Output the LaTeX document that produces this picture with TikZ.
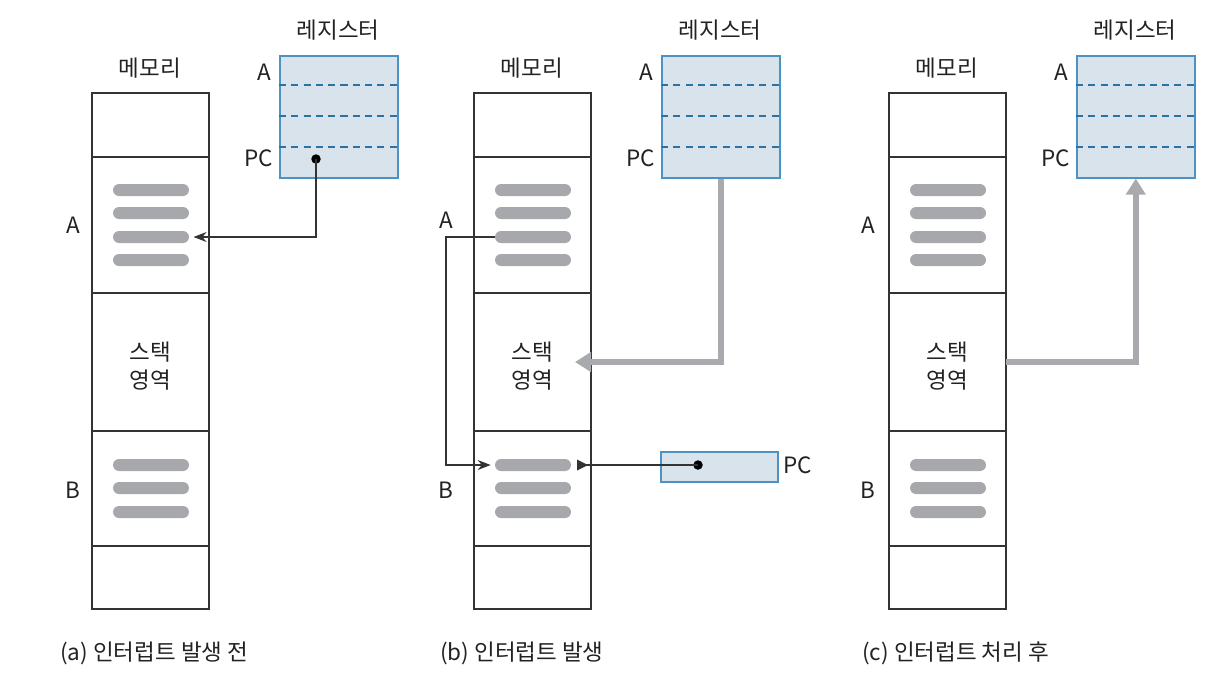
\documentclass[tikz,border=0pt]{standalone}
\usepackage{fontspec}
\setmainfont{Noto Sans CJK KR}
\usetikzlibrary{arrows.meta}
\definecolor{regfill}{HTML}{D8E3EC}
\definecolor{regline}{HTML}{4A93C4}
\definecolor{regdash}{HTML}{2B72A6}
\definecolor{bargray}{HTML}{A7A8AB}
\definecolor{arrgray}{HTML}{A9AAAD}
\definecolor{linec}{HTML}{333333}
\definecolor{txtc}{HTML}{222222}
\tikzset{
  cell/.style={draw=linec, line width=0.9pt},
  bar/.style={fill=bargray, rounded corners=0.12cm, minimum width=1.52cm, minimum height=0.24cm, inner sep=0pt},
  txt/.style={font=\fontsize{12.8}{16}\selectfont, text=txtc, inner sep=0pt},
  thinline/.style={draw=linec, line width=0.6pt},
  thinarrow/.style={thinline, -{Stealth[length=0.26cm, width=0.2cm]}},
  bigarrow/.style={draw=arrgray, line width=3.2pt, -{Triangle[length=0.32cm, width=0.38cm]}},
  reg/.style={draw=regline, fill=regfill, line width=0.9pt, inner sep=0pt},
  regdashed/.style={draw=regdash, line width=0.6pt, dash pattern=on 4pt off 3pt},
  dotnode/.style={circle, fill=black, inner sep=0pt, minimum size=0.19cm},
}
\newcommand{\mempanel}[2]{%
  \node[txt] (#2mem) at (#1+150,68) {메모리};
  \draw[cell] (#1+92,93) rectangle (#1+209,609);
  \foreach \yy in {157,293,431,546} \draw[cell] (#1+92,\yy) -- (#1+209,\yy);
  \foreach \yy [count=\i] in {190,213,237,260} \node[bar] (#2a\i) at (#1+151,\yy) {};
  \foreach \yy [count=\i] in {465,488,512} \node[bar] (#2b\i) at (#1+151,\yy) {};
  \node[txt, align=center] (#2stack) at (#1+150,366) {스택\\영역};
  \node[reg, minimum width=2.36cm, minimum height=2.44cm, anchor=north west] (#2reg) at (#1+279,55) {};
  \foreach \yy in {85,116,147} \draw[regdashed] (#1+279,\yy) -- (#1+397,\yy);
  \node[txt] (#2regtitle) at (#1+338,30) {레지스터};
  \node[txt, anchor=east] (#2regA) at (#1+272,72) {A};
  \node[txt, anchor=east] (#2regPC) at (#1+273,158) {PC};
}
\begin{document}
\begin{tikzpicture}[x=0.02cm, y=-0.02cm]
\useasboundingbox (0,0) rectangle (1224,684);
\fill[white] (0,0) rectangle (1224,684);

% ---------- panel (a)
\mempanel{0}{a}
\node[txt] (aA) at (73,225) {A};
\node[txt] (aB) at (73,490) {B};
\node[dotnode] (adot) at (316,159) {};
\draw[thinarrow, shorten >=4\pgflinewidth] (adot.center) |- (aa3.east);
\node[txt, anchor=west] (acap) at (60,653) {(a) 인터럽트 발생 전};

% ---------- panel (b)
\mempanel{382}{b}
\node[txt] (bA) at (446,220) {A};
\node[txt] (bB) at (446,490) {B};
\coordinate (bcorner) at (446,237);
\draw[thinarrow, shorten >=0.08cm] (ba3.west) -- (bcorner) |- (bb1.west);
\node[reg, minimum width=2.34cm, minimum height=0.6cm, anchor=north west] (bpcbox) at (660,451) {};
\node[dotnode] (bpcdot) at (698,465) {};
\node[txt, anchor=west] (bpclabel) at (783,465) {PC};
\coordinate (bpcend) at (578,465);
\draw[thinline] (bpcdot.center) -- (bpcend);
\fill[linec] (577,459.5) -- (588,465) -- (577,470.5) -- cycle;
\coordinate (btip) at (575,362);
\draw[bigarrow] (breg.south) |- (btip);
\node[txt, anchor=west] (bcap) at (440,653) {(b) 인터럽트 발생};

% ---------- panel (c)
\mempanel{797}{c}
\node[txt] (cA) at (868,225) {A};
\node[txt] (cB) at (868,490) {B};
\coordinate (cstart) at (1006,362);
\draw[bigarrow] (cstart) -| (creg.south);
\node[txt, anchor=west] (ccap) at (862,653) {(c) 인터럽트 처리 후};
\end{tikzpicture}
\end{document}
